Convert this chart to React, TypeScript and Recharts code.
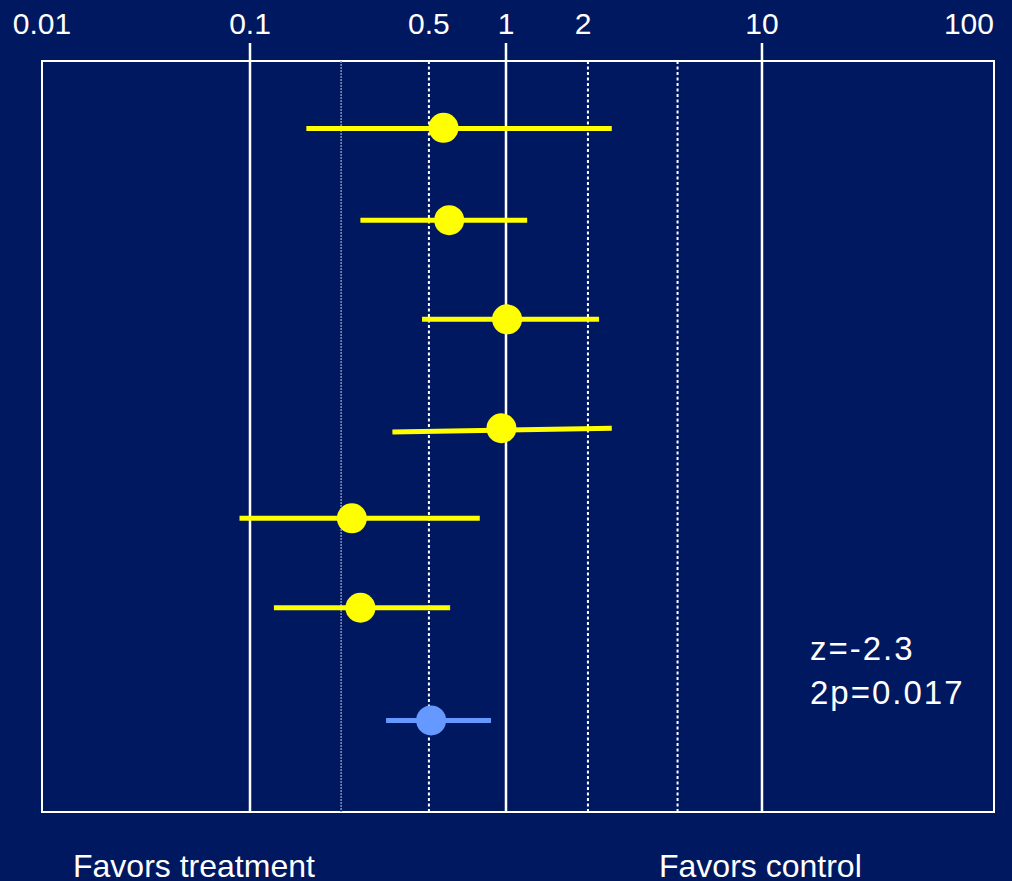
import {
  ScatterChart,
  Scatter,
  XAxis,
  YAxis,
  ReferenceLine,
  ReferenceArea,
} from "recharts";

// odds ratios (log scale, top axis)
const estimate = [0.57, 0.6, 1.01, 0.96, 0.25, 0.27];
const ciLow = [0.166, 0.27, 0.47, 0.36, 0.091, 0.124];
const ciHigh = [2.59, 1.21, 2.31, 2.59, 0.79, 0.605];
// vertical row position, 0 = top of the box, 10 = bottom
const rowPos = [0.89, 2.12, 3.44, 4.89, 6.09, 7.28];
const ciLowRow = [0.9, 2.12, 3.44, 4.94, 6.09, 7.28];
const ciHighRow = [0.9, 2.12, 3.44, 4.89, 6.09, 7.28];

const pooledEst = [0.51];
const pooledLow = [0.34];
const pooledHigh = [0.874];
const pooledRow = [8.78];

// axis
const xDomain = [0.0154, 80.6];
const boxTop = 0;
const boxBottom = 10;
const yDomain = [-0.24, 10]; // major lines poke a little above the box
const tickValues = [0.0154, 0.1, 0.5, 1, 2, 10, 80.6];
const tickLabels = ["0.01", "0.1", "0.5", "1", "2", "10", "100"];
const majorLines = [0.1, 1, 10];
const dottedLines = [0.5, 2.09, 4.68];
const faintLines = [0.227];

const annotation = ["z=-2.3", "2p=0.017"];
const footLeft = "Favors treatment";
const footRight = "Favors control";

const NAVY = "#001860";
const YELLOW = "#ffff00";
const BLUE = "#6699ff";
const FONT = "'Liberation Sans', Arial, sans-serif";

const studyData = estimate.map((v, i) => ({ x: v, y: rowPos[i] }));
const pooledData = pooledEst.map((v, i) => ({ x: v, y: pooledRow[i] }));

function TopTick(props: any) {
  const { x, y, index } = props;
  const last = tickValues.length - 1;
  const anchor = index === last ? "end" : "middle";
  return (
    <text
      x={x}
      y={y - 9}
      textAnchor={anchor}
      fill="#ffffff"
      fontSize={30}
      fontFamily={FONT}
    >
      {tickLabels[index]}
    </text>
  );
}

function Dot(color: string) {
  return (props: any) => <circle cx={props.cx} cy={props.cy} r={15} fill={color} />;
}

export default function App() {
  return (
    <div
      style={{
        position: "absolute",
        left: 0,
        top: 0,
        width: 1012,
        height: 881,
        background: NAVY,
        overflow: "hidden",
        fontFamily: FONT,
      }}
    >
      <ScatterChart
        width={1012}
        height={881}
        margin={{ top: 0, right: 18, bottom: 69, left: 42 }}
      >
        <XAxis
          xAxisId={0}
          type="number"
          dataKey="x"
          scale="log"
          domain={xDomain}
          allowDataOverflow
          orientation="top"
          height={43}
          ticks={tickValues}
          interval={0}
          tickSize={0}
          tickMargin={0}
          axisLine={false}
          tickLine={false}
          tick={<TopTick />}
        />
        <YAxis
          yAxisId={0}
          type="number"
          dataKey="y"
          domain={yDomain}
          allowDataOverflow
          reversed
          hide
        />

        {faintLines.map((v) => (
          <ReferenceLine
            key={"f" + v}
            segment={[
              { x: v, y: boxTop },
              { x: v, y: boxBottom },
            ]}
            stroke="#8790b8"
            strokeWidth={1.5}
            strokeDasharray="2 1"
          />
        ))}
        {dottedLines.map((v) => (
          <ReferenceLine
            key={"d" + v}
            segment={[
              { x: v, y: boxTop },
              { x: v, y: boxBottom },
            ]}
            stroke="#ffffff"
            strokeWidth={2}
            strokeDasharray="3 2.5"
          />
        ))}
        {majorLines.map((v) => (
          <ReferenceLine key={"m" + v} x={v} stroke="#ffffff" strokeWidth={2.5} />
        ))}
        <ReferenceArea
          x1={xDomain[0]}
          x2={xDomain[1]}
          y1={boxTop}
          y2={boxBottom}
          stroke="#ffffff"
          strokeWidth={2}
          fill="none"
          fillOpacity={0}
        />

        {estimate.map((_, i) => (
          <ReferenceLine
            key={"ci" + i}
            segment={[
              { x: ciLow[i], y: ciLowRow[i] },
              { x: ciHigh[i], y: ciHighRow[i] },
            ]}
            stroke={YELLOW}
            strokeWidth={5}
          />
        ))}
        {pooledEst.map((_, i) => (
          <ReferenceLine
            key={"pci" + i}
            segment={[
              { x: pooledLow[i], y: pooledRow[i] },
              { x: pooledHigh[i], y: pooledRow[i] },
            ]}
            stroke={BLUE}
            strokeWidth={5}
          />
        ))}

        <Scatter data={studyData} shape={Dot(YELLOW)} isAnimationActive={false} />
        <Scatter data={pooledData} shape={Dot(BLUE)} isAnimationActive={false} />
      </ScatterChart>

      <div
        style={{
          position: "absolute",
          left: 810,
          top: 627,
          color: "#ffffff",
          fontSize: 33,
          lineHeight: "44px",
          letterSpacing: 2,
          whiteSpace: "nowrap",
        }}
      >
        {annotation.map((t) => (
          <div key={t}>{t}</div>
        ))}
      </div>
      <div
        style={{
          position: "absolute",
          left: 73,
          top: 850,
          color: "#ffffff",
          fontSize: 32,
          lineHeight: "32px",
          whiteSpace: "nowrap",
        }}
      >
        {footLeft}
      </div>
      <div
        style={{
          position: "absolute",
          left: 659,
          top: 850,
          color: "#ffffff",
          fontSize: 32,
          lineHeight: "32px",
          whiteSpace: "nowrap",
        }}
      >
        {footRight}
      </div>
    </div>
  );
}
